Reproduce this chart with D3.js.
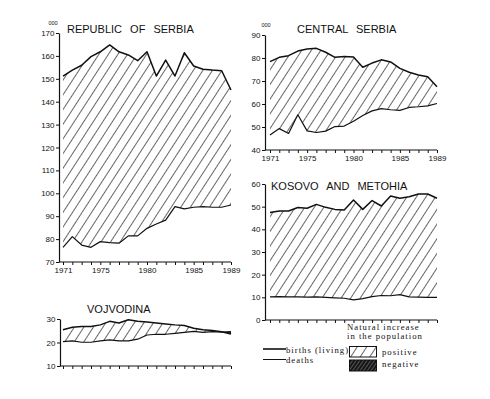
<!DOCTYPE html>
<html>
<head>
<meta charset="utf-8">
<script src="https://cdn.jsdelivr.net/npm/d3@7"></script>
<style>
  body { margin: 0; background: #fff; }
  svg { display: block; }
  .tick text { font-family: "Liberation Sans Narrow", "Liberation Sans", sans-serif; font-size: 8px; fill: #111; }
  .title { font-family: "Liberation Sans", Arial, sans-serif; font-size: 11px; word-spacing: 5px; fill: #111; }
  .units { font-family: "Liberation Sans", sans-serif; font-size: 5.5px; fill: #111; }
  .legend { font-family: "Liberation Serif", "Times New Roman", serif; font-size: 8.7px; letter-spacing: 1px; fill: #111; }
</style>
</head>
<body>
<div id="chart"></div>
<script>
const years = [1971, 1972, 1973, 1974, 1975, 1976, 1977, 1978, 1979, 1980,
               1981, 1982, 1983, 1984, 1985, 1986, 1987, 1988, 1989]
const yearLabels = [1971, 1975, 1980, 1985, 1989]

// thousands
const serbiaBirths = [151.2, 153.8, 155.9, 159.7, 161.8, 164.8, 161.8, 160.4, 157.9, 161.8,
                      151.2, 158.2, 151.2, 161.4, 155.6, 154.2, 153.8, 153.5, 145.1]
const serbiaDeaths = [76.4, 81.1, 77.4, 76.4, 78.9, 78.5, 78.2, 81.4, 81.4, 84.7,
                      86.6, 88.3, 94.2, 93.2, 93.9, 94.2, 93.9, 93.9, 94.9]

const centralBirths = [78.4, 80.3, 81.0, 83.0, 83.9, 84.2, 82.5, 80.3, 80.7, 80.4,
                       76.0, 77.8, 79.2, 78.3, 75.5, 73.8, 72.6, 71.8, 67.5]
const centralDeaths = [46.5, 49.3, 47.2, 55.3, 48.3, 47.6, 48.2, 50.2, 50.4, 52.5,
                       55.0, 57.0, 58.0, 57.5, 57.2, 58.5, 58.8, 59.2, 60.2]

const kosovoBirths = [47.4, 48.1, 48.1, 49.6, 49.3, 51.0, 49.7, 48.8, 48.5, 52.9,
                      48.8, 52.7, 50.3, 54.7, 53.7, 54.4, 55.6, 55.6, 53.7]
const kosovoDeaths = [10.2, 10.3, 10.2, 10.2, 10.1, 10.2, 10.0, 9.8, 9.6, 8.9,
                      9.4, 10.3, 10.8, 10.7, 11.2, 10.2, 10.1, 10.0, 10.0]

const vojvodinaBirths = [25.4, 26.5, 26.8, 26.8, 27.5, 29.0, 28.3, 29.7, 29.0, 28.7,
                         28.3, 27.9, 27.5, 27.2, 26.1, 25.4, 25.1, 24.6, 23.6]
const vojvodinaDeaths = [20.4, 20.7, 20.1, 20.1, 20.7, 21.1, 20.7, 20.7, 21.4, 23.2,
                         23.5, 23.5, 23.9, 24.3, 24.7, 24.3, 24.6, 24.4, 24.6]

const serbiaTicks = [70, 80, 90, 100, 110, 120, 130, 140, 150, 160, 170]
const centralTicks = [40, 50, 60, 70, 80, 90]
const kosovoTicks = [0, 10, 20, 30, 40, 50, 60]
const vojvodinaTicks = [10, 20, 30]

const width = 490, height = 399

let svg = d3.select('#chart')
  .append('svg')
    .attr('width', width)
    .attr('height', height)

let defs = svg.append('defs')

// hatching for positive natural increase
defs.append('pattern')
    .attr('id', 'hatch')
    .attr('patternUnits', 'userSpaceOnUse')
    .attr('width', 8)
    .attr('height', 8)
    .attr('patternTransform', 'rotate(33)')
  .append('line')
    .attr('x1', 0).attr('y1', -1)
    .attr('x2', 0).attr('y2', 9)
    .attr('stroke', '#000')
    .attr('stroke-width', 1.2)

// dark cross hatch for negative
let neg = defs.append('pattern')
    .attr('id', 'neghatch')
    .attr('patternUnits', 'userSpaceOnUse')
    .attr('width', 3)
    .attr('height', 3)
    .attr('patternTransform', 'rotate(35)')
neg.append('rect').attr('width', 3).attr('height', 3).attr('fill', '#151515')
neg.append('line')
    .attr('x1', 0).attr('y1', 0).attr('x2', 0).attr('y2', 3)
    .attr('stroke', '#ccc').attr('stroke-width', 0.7)

let drawPanel = function(p) {
  let x = d3.scaleLinear().domain([1971, 1989]).range([p.x0, p.x1])
  let y = d3.scaleLinear().domain([p.ticks[0], p.ticks[p.ticks.length - 1]]).range([p.bottom, p.top])
  let rows = years.map((yr, i) => ({ year: yr, b: p.births[i], d: p.deaths[i] }))

  // clip regions for the difference area
  defs.append('clipPath').attr('id', p.id + '-below')
    .append('path')
    .attr('d', d3.area().x(d => x(d.year)).y0(p.bottom).y1(d => y(d.b))(rows))
  defs.append('clipPath').attr('id', p.id + '-above')
    .append('path')
    .attr('d', d3.area().x(d => x(d.year)).y0(0).y1(d => y(d.b))(rows))

  svg.append('path')
    .attr('clip-path', `url(#${p.id}-below)`)
    .attr('d', d3.area().x(d => x(d.year)).y0(d => y(d.d)).y1(0)(rows))
    .attr('fill', 'url(#hatch)')

  svg.append('path')
    .attr('clip-path', `url(#${p.id}-above)`)
    .attr('d', d3.area().x(d => x(d.year)).y0(d => y(d.d)).y1(p.bottom)(rows))
    .attr('fill', 'url(#neghatch)')

  svg.append('path')
    .attr('d', d3.line().x(d => x(d.year)).y(d => y(d.b))(rows))
    .attr('fill', 'none')
    .attr('stroke', '#111')
    .attr('stroke-width', 1.5)
    .attr('stroke-linejoin', 'round')

  svg.append('path')
    .attr('d', d3.line().x(d => x(d.year)).y(d => y(d.d))(rows))
    .attr('fill', 'none')
    .attr('stroke', '#111')
    .attr('stroke-width', 1.2)
    .attr('stroke-linejoin', 'round')

  // y axis
  let ya = svg.append('g')
    .attr('transform', `translate(${p.left},0)`)
    .call(d3.axisLeft(y).tickValues(p.ticks).tickSize(3).tickSizeOuter(0).tickPadding(1.5))
  ya.select('.domain').attr('stroke', '#111').attr('stroke-width', 1.2)
  ya.selectAll('.tick line').attr('stroke', '#111').attr('stroke-width', 1)

  // x axis
  let xa = svg.append('g')
    .attr('transform', `translate(0,${p.bottom})`)
    .call(d3.axisBottom(x).tickValues(years).tickSize(3).tickPadding(2)
      .tickFormat(d => p.yearLabels && yearLabels.includes(d) ? d : ''))
  xa.select('.domain').remove()
  xa.selectAll('.tick line').attr('stroke', '#111').attr('stroke-width', 1)
  xa.append('line')
    .attr('x1', p.left).attr('x2', p.x1)
    .attr('stroke', '#111').attr('stroke-width', 1.2)

  svg.append('text')
    .attr('class', 'title')
    .attr('x', p.titleX)
    .attr('y', p.titleY)
    .text(p.title)

  if (p.units) {
    svg.append('text')
      .attr('class', 'units')
      .attr('x', p.unitsX)
      .attr('y', p.top - 8)
      .attr('text-anchor', 'middle')
      .text('000')
  }
}

drawPanel({ id: 'serbia', title: 'REPUBLIC OF SERBIA', births: serbiaBirths, deaths: serbiaDeaths,
  ticks: serbiaTicks, left: 59, x0: 63, x1: 231, top: 33, bottom: 262,
  titleX: 67, titleY: 32.5, units: true, unitsX: 53, yearLabels: true })

drawPanel({ id: 'central', title: 'CENTRAL SERBIA', births: centralBirths, deaths: centralDeaths,
  ticks: centralTicks, left: 265, x0: 270, x1: 437, top: 35, bottom: 150,
  titleX: 297, titleY: 32.5, units: true, unitsX: 266, yearLabels: true })

drawPanel({ id: 'kosovo', title: 'KOSOVO AND METOHIA', births: kosovoBirths, deaths: kosovoDeaths,
  ticks: kosovoTicks, left: 265, x0: 270, x1: 437, top: 184, bottom: 320,
  titleX: 271, titleY: 190, units: false, yearLabels: false })

drawPanel({ id: 'vojvodina', title: 'VOJVODINA', births: vojvodinaBirths, deaths: vojvodinaDeaths,
  ticks: vojvodinaTicks, left: 60, x0: 63, x1: 231, top: 319, bottom: 366,
  titleX: 87, titleY: 313, units: false, yearLabels: false })

// legend
let lg = svg.append('g')

lg.append('line').attr('x1', 263).attr('x2', 286).attr('y1', 349).attr('y2', 349)
  .attr('stroke', '#111').attr('stroke-width', 1.6)
lg.append('text').attr('class', 'legend').attr('x', 286).attr('y', 352.5).text('births (living)')

lg.append('line').attr('x1', 263).attr('x2', 286).attr('y1', 359.5).attr('y2', 359.5)
  .attr('stroke', '#111').attr('stroke-width', 1)
lg.append('text').attr('class', 'legend').attr('x', 286).attr('y', 363).text('deaths')

lg.append('text').attr('class', 'legend').attr('x', 347).attr('y', 329.5).text('Natural increase')
lg.append('text').attr('class', 'legend').attr('x', 347).attr('y', 339.2).text('in the population')

lg.append('rect').attr('x', 349.5).attr('y', 346.5).attr('width', 27).attr('height', 10.5)
  .attr('fill', 'url(#hatch)').attr('stroke', '#111').attr('stroke-width', 1)
lg.append('text').attr('class', 'legend').attr('x', 382).attr('y', 355.3).text('positive')

lg.append('rect').attr('x', 349.5).attr('y', 360).attr('width', 27).attr('height', 11)
  .attr('fill', 'url(#neghatch)').attr('stroke', '#111').attr('stroke-width', 1)
lg.append('text').attr('class', 'legend').attr('x', 382).attr('y', 367).text('negative')
</script>
</body>
</html>
